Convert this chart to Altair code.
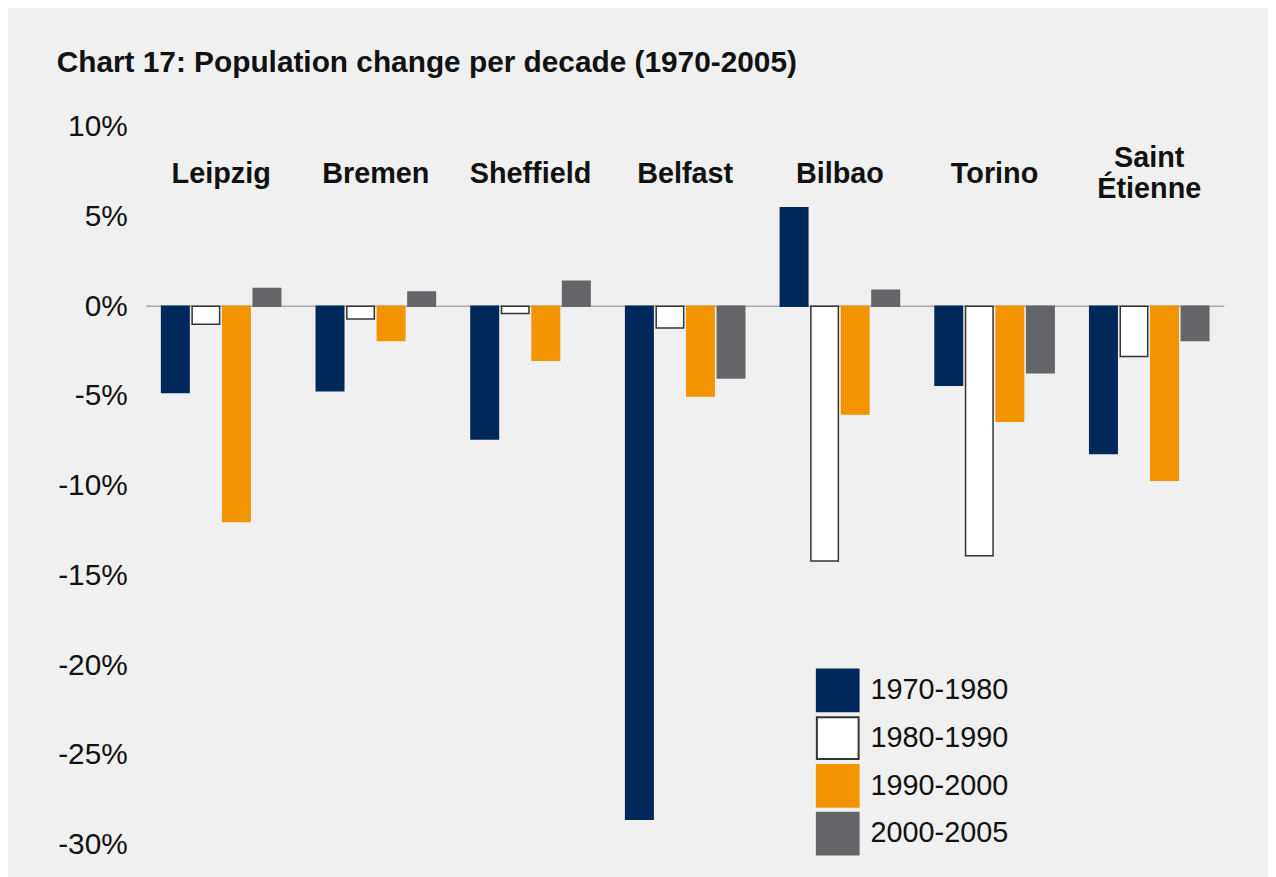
import altair as alt
import pandas as pd

cities = ["Leipzig", "Bremen", "Sheffield", "Belfast", "Bilbao", "Torino", "Saint Étienne"]
city_labels = ["Leipzig", "Bremen", "Sheffield", "Belfast", "Bilbao", "Torino", "Saint\nÉtienne"]
periods = ["1970-1980", "1980-1990", "1990-2000", "2000-2005"]
p1970_1980 = [-4.8, -4.7, -7.4, -28.6, 5.5, -4.4, -8.2]
p1980_1990 = [-1.0, -0.7, -0.4, -1.2, -14.2, -13.9, -2.8]
p1990_2000 = [-12.0, -1.9, -3.0, -5.0, -6.0, -6.4, -9.7]
p2000_2005 = [1.0, 0.8, 1.4, -4.0, 0.9, -3.7, -1.9]
y_ticks = [10, 5, 0, -5, -10, -15, -20, -25, -30]

fills = ["#00285A", "#FFFFFF", "#F29400", "#646568"]
strokes = ["#00285A", "#333333", "#F29400", "#646568"]

series = [p1970_1980, p1980_1990, p1990_2000, p2000_2005]
rows = []
for p, vals in zip(periods, series):
    for c, v in zip(cities, vals):
        rows.append({"city": c, "period": p, "value": v})
df = pd.DataFrame(rows)
labels_df = pd.DataFrame({"city": cities, "label": city_labels})

FONT = "Liberation Sans"

x_scale = alt.Scale(domain=cities, paddingInner=0.23, paddingOuter=0.1)
y_scale = alt.Scale(domain=[-30, 10], nice=False, zero=False)

legend_kw = dict(title=None, orient="none", legendX=674, legendY=545,
                 symbolType="square", symbolSize=1764, symbolStrokeWidth=2,
                 rowPadding=-2, labelOffset=11, labelFontSize=29, labelFont=FONT,
                 labelColor="#111111", symbolOpacity=1)

bars = alt.Chart(df).mark_bar(strokeWidth=1.5).encode(
    x=alt.X("city:N", scale=x_scale, sort=cities, axis=None),
    xOffset=alt.XOffset("period:N", sort=periods,
                        scale=alt.Scale(domain=periods, paddingInner=0.1, paddingOuter=0)),
    y=alt.Y("value:Q", scale=y_scale,
            axis=alt.Axis(values=y_ticks, labelExpr="datum.value + '%'", title=None,
                          domain=False, ticks=False, grid=False, labelPadding=19,
                          labelFontSize=30, labelFont=FONT, labelColor="#111111")),
    fill=alt.Fill("period:N", sort=periods,
                  scale=alt.Scale(domain=periods, range=fills),
                  legend=alt.Legend(**legend_kw)),
    stroke=alt.Stroke("period:N", sort=periods,
                      scale=alt.Scale(domain=periods, range=strokes),
                      legend=alt.Legend(**legend_kw)),
)

zero = alt.Chart(pd.DataFrame({"v": [0]})).mark_rule(color="#AAAAAA", strokeWidth=1.5).encode(
    y=alt.Y("v:Q", scale=y_scale)
)

texts = alt.Chart(labels_df).mark_text(
    font=FONT, fontSize=29, fontWeight="bold", color="#111111",
    lineBreak="\n", lineHeight=32, baseline="middle", align="center"
).encode(
    x=alt.X("city:N", scale=x_scale, sort=cities, axis=None),
    y=alt.Y("ypos:Q", scale=y_scale),
    text="label:N",
).transform_calculate(
    ypos="indexof(datum.label, '\\n') >= 0 ? 7.4 + 16 / 18.05 : 7.4"
)

chart = alt.layer(zero, bars, texts).properties(
    width=1085, height=722,
    autosize=alt.AutoSizeParams(type="none"),
    padding={"left": 139, "top": 117, "right": 44, "bottom": 30},
    title=alt.Title("Chart 17: Population change per decade (1970-2005)",
                    anchor="start", frame="group", dx=-90, offset=34,
                    font=FONT, fontSize=30, fontWeight="bold", color="#111111"),
).configure(background="#EFF0EF").configure_view(stroke=None)

chart.save("out.html", embed_options={"renderer": "svg", "actions": False})
